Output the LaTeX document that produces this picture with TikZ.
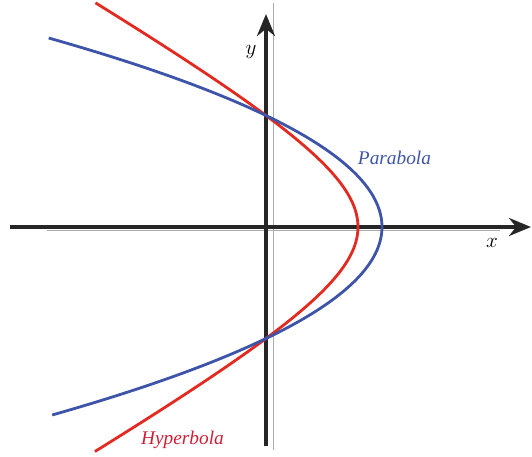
\documentclass[tikz,border=0pt]{standalone}
\usepackage{fontspec}
\newfontfamily\labelfont{Liberation Serif}
\usetikzlibrary{arrows.meta}
\definecolor{parablue}{RGB}{62,84,168}
\definecolor{hypred}{RGB}{226,42,32}
\definecolor{hyptext}{RGB}{208,30,52}

\begin{document}
\begin{tikzpicture}[x=0.02cm, y=0.02cm,
  axis/.style={line width=2.2pt, black!85, -{Stealth[length=4.4mm, width=3.6mm]}},
  guide/.style={line width=0.5pt, gray!65},
  curve/.style={line width=1.6pt},
  lab/.style={font=\labelfont\itshape\fontsize{11}{13}\selectfont},
  axlab/.style={font=\fontsize{12}{14}\selectfont},
]
  \useasboundingbox (-266,-230) rectangle (266,227);

  % Thin guide lines beside the axes.
  \draw[guide] (7,224) -- (7,-223);
  \draw[guide] (-219,-3) -- (234,-3);

  % Axes.
  \coordinate (xstart) at (-256,0);
  \coordinate (xend)   at (265,0);
  \coordinate (ystart) at (0,-219);
  \coordinate (yend)   at (0,213);
  \draw[axis] (xstart) -- (xend);
  \draw[axis] (ystart) -- (yend);
  \node[axlab] (xlab) at (226,-16) {$x$};
  \node[axlab] (ylab) at (-15,175) {$y$};

  % Hyperbola (left branch) and parabola through the same two points.
  \draw[curve, hypred, domain=-1.634:1.634, samples=120, variable=\t]
    plot ({250.5-158.5*cosh(\t)}, {91.1*sinh(\t)});
  \draw[curve, parablue, domain=-188:189, samples=120, variable=\t]
    plot ({116*(1-(\t/111.5)^2)}, \t);

  \node[lab, text=parablue, anchor=base] (parlab) at (128.5,62) {Parabola};
  \node[lab, text=hyptext, anchor=base] (hyplab) at (-83.5,-217) {Hyperbola};
\end{tikzpicture}
\end{document}
